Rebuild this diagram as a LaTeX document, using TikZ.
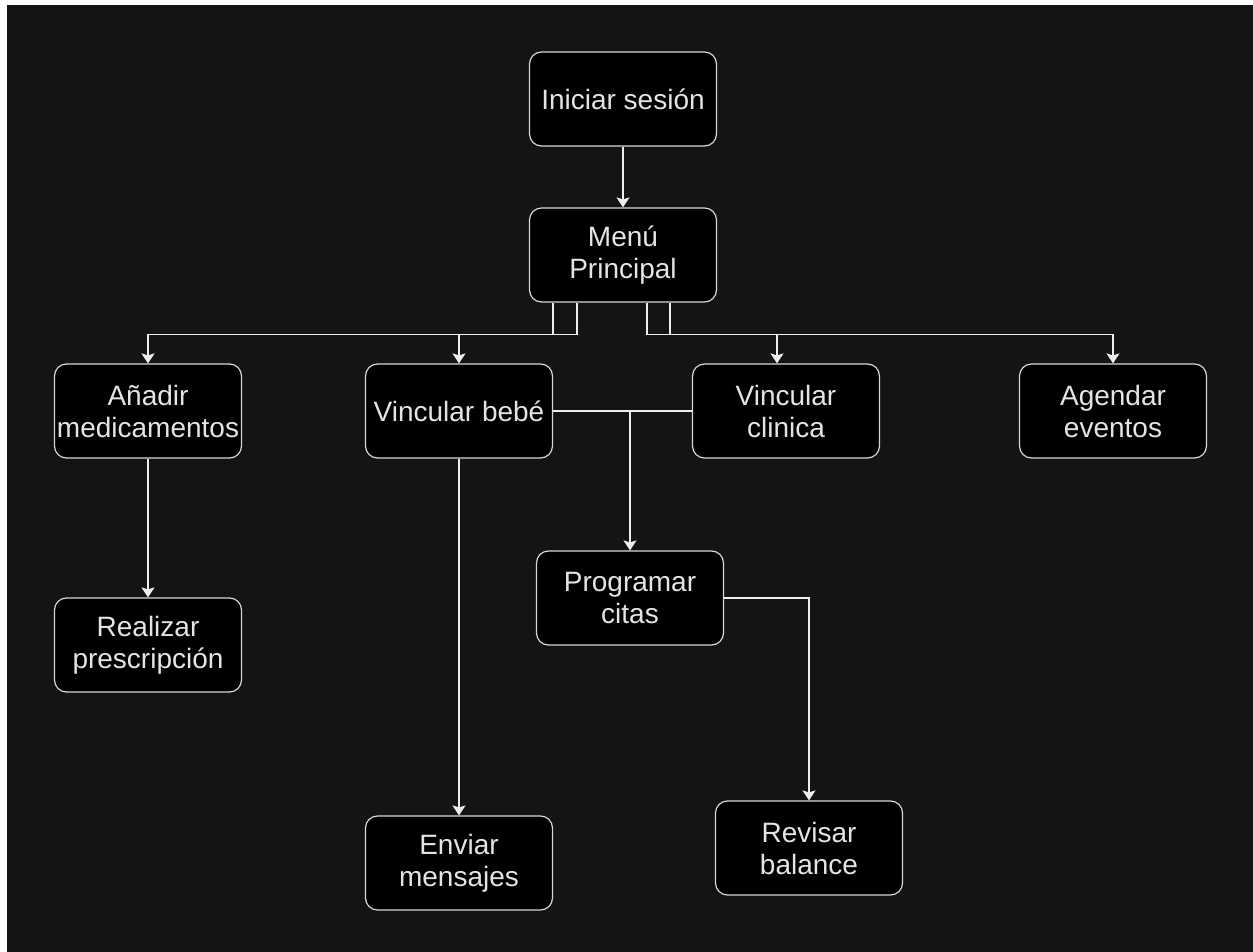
\documentclass[tikz,border=0pt]{standalone}
\usepackage{fontspec}
\setmainfont{Liberation Sans}
\usetikzlibrary{arrows.meta}
\definecolor{fondo}{RGB}{20,20,20}
\definecolor{borde}{RGB}{215,215,215}
\definecolor{texto}{RGB}{228,228,228}
\definecolor{linea}{RGB}{238,238,238}
\tikzset{
 caja/.style={draw=borde,fill=black,rounded corners=6pt,minimum width=93.5pt,minimum height=47pt,
  text=texto,align=center,font=\fontsize{14}{16}\selectfont,line width=0.6pt,inner sep=0pt},
 flecha/.style={draw=linea,line width=0.6pt,-{Stealth[length=5pt,width=6.5pt,inset=1pt]}},
 linea/.style={draw=linea,line width=0.6pt}
}
\begin{document}
\begin{tikzpicture}[x=0.5pt,y=-0.5pt]
 \useasboundingbox (0,0) rectangle (1253,952);
 \fill[white](0,0) rectangle (1253,952);
 \fill[fondo](7,5) rectangle (1253,952);
 % cajas
 \node[caja] (iniciar) at (623,99) {Iniciar sesión};
 \node[caja] (menu) at (623,255) {Menú\\Principal};
 \node[caja] (anadir) at (148,411) {Añadir\\medicamentos};
 \node[caja] (bebe) at (459,411) {Vincular bebé};
 \node[caja] (clinica) at (786,411) {Vincular\\clinica};
 \node[caja] (agendar) at (1113,411) {Agendar\\eventos};
 \node[caja] (receta) at (148,645) {Realizar\\prescripción};
 \node[caja] (citas) at (630,598) {Programar\\citas};
 \node[caja] (mensajes) at (459,863) {Enviar\\mensajes};
 \node[caja] (balance) at (809,848) {Revisar\\balance};
 % conexiones
 \draw[flecha] (iniciar) -- (menu);
 \draw[flecha] ([xshift=-35pt]menu.south) -- ++(0,32) -| (anadir);
 \draw[flecha] ([xshift=-23pt]menu.south) -- ++(0,32) -| (bebe);
 \draw[flecha] ([xshift=12pt]menu.south) -- ++(0,32) -| ([xshift=-4.5pt]clinica.north);
 \draw[flecha] ([xshift=23.5pt]menu.south) -- ++(0,32) -| (agendar);
 \draw[flecha] (anadir) -- (receta);
 \draw[flecha] (bebe) -- (mensajes);
 \draw[linea] (bebe) -- (clinica);
 \draw[flecha] (citas |- bebe.east) -- (citas);
 \draw[flecha] (citas) -| (balance);
\end{tikzpicture}
\end{document}
